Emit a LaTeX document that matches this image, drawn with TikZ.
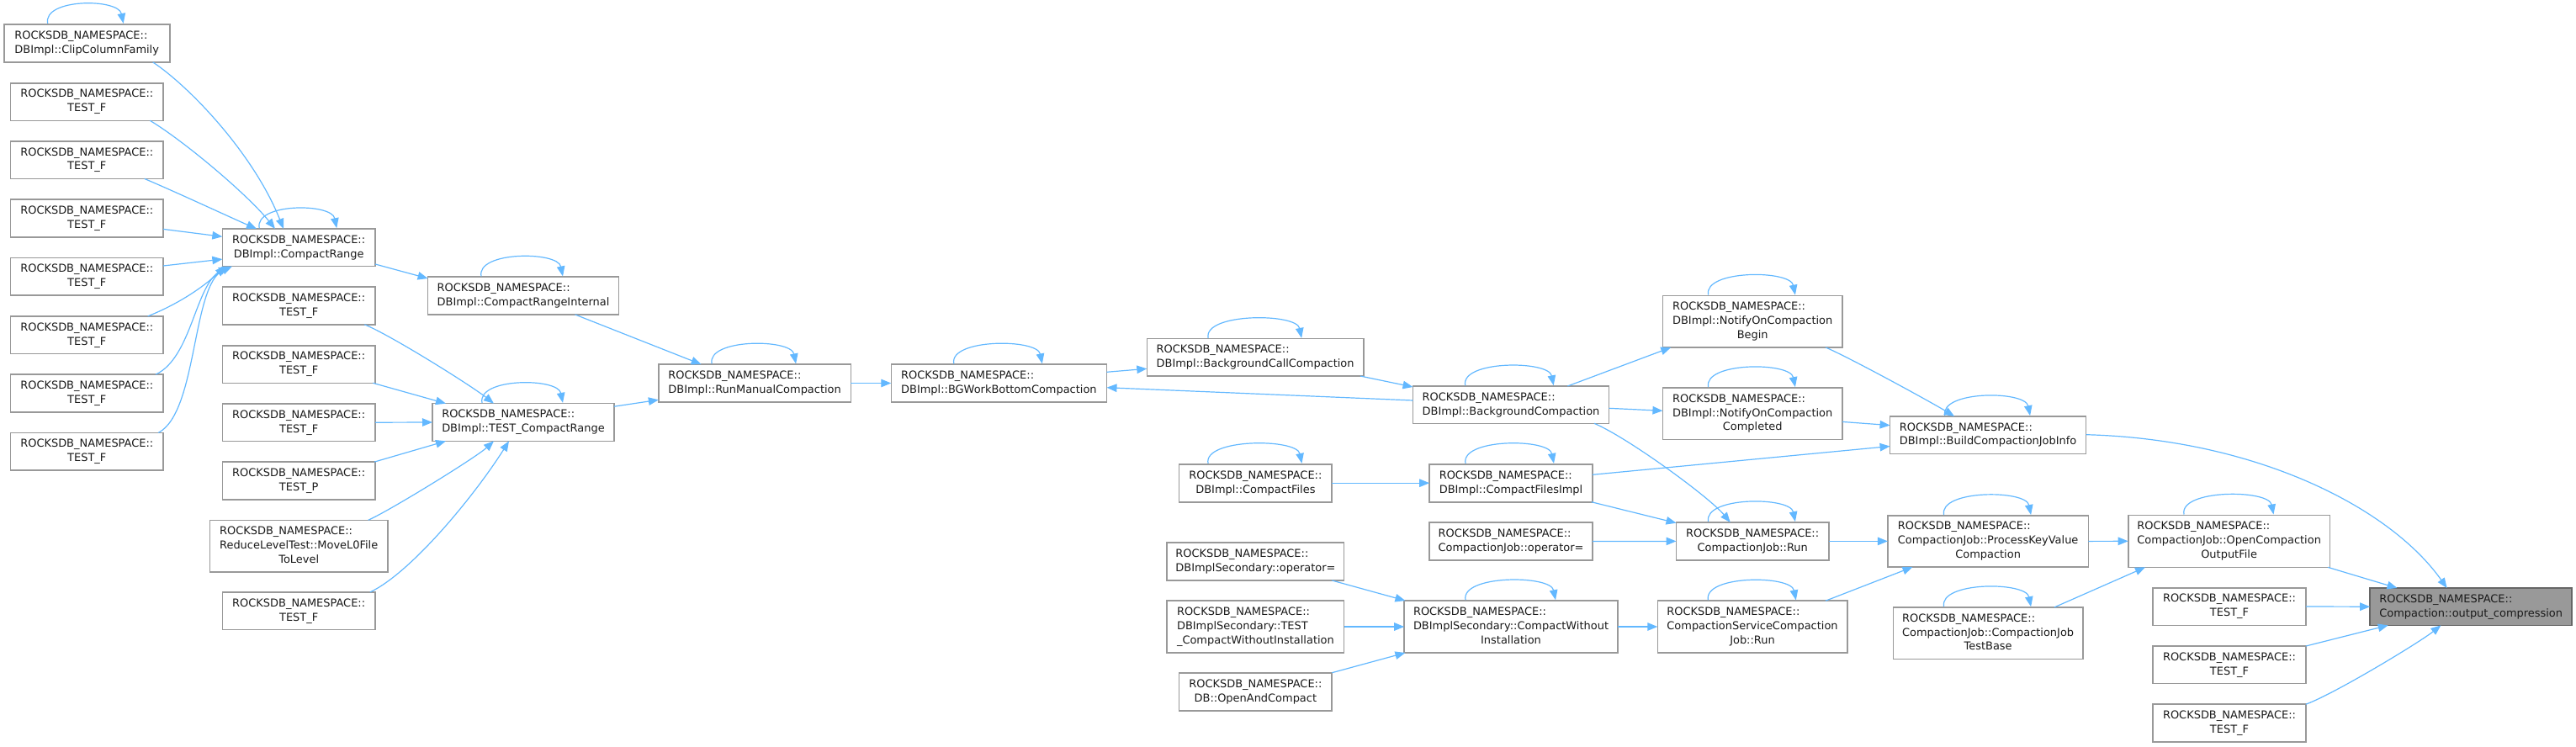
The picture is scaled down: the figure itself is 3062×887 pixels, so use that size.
\documentclass[tikz,border=0pt]{standalone}
\usepackage{fontspec}
\setmainfont{DejaVu Sans}
\usetikzlibrary{arrows.meta,calc}
\definecolor{edgeblue}{HTML}{63B8FF}
\definecolor{nodeborder}{HTML}{999999}
\definecolor{mainfill}{HTML}{999999}
\definecolor{mainborder}{HTML}{666666}
\definecolor{txt}{HTML}{1A1A1A}
\tikzset{
 gnode/.style={draw=nodeborder, fill=white, line width=1.6pt, inner sep=0pt, text=txt, font=\fontsize{12.95}{16.9}\selectfont},
 mainnode/.style={gnode, fill=mainfill, draw=mainborder},
 edge/.style={draw=edgeblue, line width=1.2pt, -{Triangle[length=12pt,width=9.5pt]}},
}
\newcommand{\nsA}[1]{\begin{tabular}{@{}l@{}}ROCKSDB\_NAMESPACE::\\\multicolumn{1}{@{}c@{}}{#1}\end{tabular}}
\newcommand{\nsB}[2]{\begin{tabular}{@{}l@{}}ROCKSDB\_NAMESPACE::\\#1\\\multicolumn{1}{@{}c@{}}{#2}\end{tabular}}
\newcommand{\gn}[6]{\node[gnode, minimum width=#4pt, minimum height=#5pt] (#1) at (#2,#3) {#6};}
\newcommand{\sloop}[3]{\draw[edge] ([xshift=#2pt]#1.north) .. controls +(-6,-30) and +(-6,-30) .. ([xshift=#3pt]#1.north);}
\begin{document}
\begin{tikzpicture}[x=1pt,y=-1pt]
\useasboundingbox (0,0) rectangle (3062,887);
% column 0
\gn{clip}{103.2}{51.3}{197}{45.2}{\nsA{DBImpl::ClipColumnFamily}}
\gn{a1}{103.3}{121}{181.5}{44.6}{\nsA{TEST\_F}}
\gn{a2}{103.3}{190.1}{181.5}{44.6}{\nsA{TEST\_F}}
\gn{a3}{103.3}{259.4}{181.5}{44.6}{\nsA{TEST\_F}}
\gn{a4}{103.3}{328.8}{181.5}{44.6}{\nsA{TEST\_F}}
\gn{a5}{103.3}{398.2}{181.5}{44.6}{\nsA{TEST\_F}}
\gn{a6}{103.3}{467.5}{181.5}{44.6}{\nsA{TEST\_F}}
\gn{a7}{103.3}{536.7}{181.5}{44.6}{\nsA{TEST\_F}}
% column 1
\gn{crange}{355.2}{294.3}{181.7}{44.7}{\nsA{DBImpl::CompactRange}}
\gn{b1}{355.2}{363.5}{181.7}{44.6}{\nsA{TEST\_F}}
\gn{b2}{355.2}{433}{181.7}{44.6}{\nsA{TEST\_F}}
\gn{b3}{355.2}{502.2}{181.7}{44.6}{\nsA{TEST\_F}}
\gn{testp}{355.2}{571.4}{181.7}{44.6}{\nsA{TEST\_P}}
\gn{reduce}{355.2}{649}{211.7}{61.4}{\nsB{ReduceLevelTest::MoveL0File}{ToLevel}}
\gn{b4}{355.2}{726.2}{181.7}{44.6}{\nsA{TEST\_F}}
% column 2
\gn{cri}{622}{351.6}{226.8}{44.7}{\nsA{DBImpl::CompactRangeInternal}}
\gn{tcr}{622}{502}{216}{44.7}{\nsA{DBImpl::TEST\_CompactRange}}
% column 3,4
\gn{rmc}{897.1}{455.5}{228.5}{44.7}{\nsA{DBImpl::RunManualCompaction}}
\gn{bgw}{1187.4}{455.5}{256.2}{44.7}{\nsA{DBImpl::BGWorkBottomCompaction}}
% column 5
\gn{bcc}{1492.1}{424.9}{257.6}{44.5}{\nsA{DBImpl::BackgroundCallCompaction}}
\gn{cfiles}{1492.4}{574.2}{181.7}{45}{\nsA{DBImpl::CompactFiles}}
\gn{dso}{1492.4}{667.5}{210.3}{45}{\nsA{DBImplSecondary::operator=}}
\gn{dstc}{1492.4}{745}{210.3}{62}{\nsB{DBImplSecondary::TEST}{\_CompactWithoutInstallation}}
\gn{oac}{1492.4}{822.2}{181.7}{45}{\nsA{DB::OpenAndCompact}}
% column 6
\gn{bc}{1796}{481.2}{233}{44.4}{\nsA{DBImpl::BackgroundCompaction}}
\gn{cfi}{1796}{574.2}{193.7}{45}{\nsA{DBImpl::CompactFilesImpl}}
\gn{cjo}{1796}{643.5}{193.7}{45}{\nsA{CompactionJob::operator=}}
\gn{cwi}{1796}{745}{253.6}{62}{\nsB{DBImplSecondary::CompactWithout}{Installation}}
% column 7
\gn{nob}{2083.2}{382.2}{213.6}{61.6}{\nsB{DBImpl::NotifyOnCompaction}{Begin}}
\gn{noc}{2083.2}{491.7}{213.6}{61.6}{\nsB{DBImpl::NotifyOnCompaction}{Completed}}
\gn{cjr}{2083.2}{643.4}{181.4}{45}{\nsA{CompactionJob::Run}}
\gn{cscj}{2083}{745}{225.4}{61.6}{\nsB{CompactionServiceCompaction}{Job::Run}}
% column 8
\gn{bcji}{2363.1}{517.1}{233.1}{44.4}{\nsA{DBImpl::BuildCompactionJobInfo}}
\gn{pkvc}{2363.1}{643.4}{238.4}{61.2}{\nsB{CompactionJob::ProcessKeyValue}{Compaction}}
\gn{cjtb}{2363.1}{752.7}{225.4}{61.6}{\nsB{CompactionJob::CompactionJob}{TestBase}}
% column 9
\gn{ocof}{2649.6}{643.3}{239.8}{62}{\nsB{CompactionJob::OpenCompaction}{OutputFile}}
\gn{c1}{2650}{721}{181.9}{44.6}{\nsA{TEST\_F}}
\gn{c2}{2650}{790.3}{181.9}{44.6}{\nsA{TEST\_F}}
\gn{c3}{2650}{859.5}{181.9}{44.6}{\nsA{TEST\_F}}
% main node
\node[mainnode, minimum width=240.1pt, minimum height=44.3pt] (oc) at (2937.2,721.2) {\nsA{Compaction::output\_compression}};
% edges
\draw[edge] ($(clip)+(78.5,22.6)$) .. controls +(45,30) and +(-35,-88) .. ($(crange)+(-18.2,-22.35)$);
\draw[edge] ($(a1)+(75,22.3)$) .. controls +(40,24) and +(-33,-41) .. ($(crange)+(-28.2,-22.35)$);
\draw[edge] ($(a2)+(68.4,22.3)$) .. controls +(40,17) and +(-30,-13) .. ($(crange)+(-50.2,-22.35)$);
\draw[edge] ($(a3)+(90.75,13)$) -- ($(crange)+(-90.85,-13)$);
\draw[edge] ($(a4)+(90.75,-12.8)$) -- ($(crange)+(-90.85,13.8)$);
\draw[edge] ($(a5)+(72.4,-22.3)$) .. controls +(35,-14) and +(-28,26) .. ($(crange)+(-87.2,22.35)$);
\draw[edge] ($(a6)+(81.7,-22.3)$) .. controls +(43,-20) and +(-40,22) .. ($(crange)+(-83.2,22.35)$);
\draw[edge] ($(a7)+(85,-22.3)$) .. controls +(46.7,-24.4) and +(-48,21.3) .. ($(crange)+(-79.2,22.35)$);
\draw[edge] ($(crange)+(90.85,19.7)$) -- ($(cri)+(-113.4,-20.6)$);
\draw[edge] ($(b1)+(78.1,22.3)$) .. controls +(30,12) and +(-28,-22) .. ($(tcr)+(-35,-22.35)$);
\draw[edge] ($(b2)+(88.1,22.3)$) -- ($(tcr)+(-92,-22.35)$);
\draw[edge] ($(b3)+(90.85,0)$) -- ($(tcr)+(-108,0)$);
\draw[edge] ($(testp)+(89.8,-22.3)$) -- ($(tcr)+(-92,22.35)$);
\draw[edge] ($(reduce)+(82.5,-30.7)$) .. controls +(25,-11) and +(-22,20) .. ($(tcr)+(-35,22.35)$);
\draw[edge] ($(b4)+(84.8,-22.3)$) .. controls +(50,-24) and +(-40,63.3) .. ($(tcr)+(-17,22.35)$);
\draw[edge] ($(cri)+(61.6,22.35)$) -- ($(rmc)+(-63.5,-22.35)$);
\draw[edge] ($(tcr)+(108,-18.8)$) -- ($(rmc)+(-114.25,19.8)$);
\draw[edge] ($(rmc)+(114.25,0)$) -- ($(bgw)+(-128.1,0)$);
\draw[edge] ($(bgw)+(128.1,-13.2)$) -- ($(bcc)+(-128.8,13.4)$);
\draw[edge] ($(bcc)+(124.8,22.1)$) -- ($(bc)+(-116.5,-21.2)$);
\draw[edge] ($(bc)+(-116.5,-5.2)$) -- ($(bgw)+(128.1,5.2)$);
\draw[edge] ($(bc)+(67.3,-22.2)$) -- ($(nob)+(-97,30.8)$);
\draw[edge] ($(bc)+(116.5,4.1)$) -- ($(noc)+(-106.8,-3.4)$);
\draw[edge] ($(bc)+(99,22.1)$) .. controls +(40,17) and +(-25,-30) .. ($(cjr)+(-26.5,-22.5)$);
\draw[edge] ($(cfiles)+(90.85,0)$) -- ($(cfi)+(-96.85,0)$);
\draw[edge] ($(cfi)+(96.85,-9.9)$) -- ($(bcji)+(-116.55,13.4)$);
\draw[edge] ($(cfi)+(95.7,22.5)$) -- ($(cjr)+(-90.7,-21.7)$);
\draw[edge] ($(cjo)+(96.85,0)$) -- ($(cjr)+(-90.7,0)$);
\draw[edge] ($(nob)+(87,30.8)$) .. controls +(30,13) and +(-28,-17) .. ($(bcji)+(-40,-22.2)$);
\draw[edge] ($(noc)+(106.8,9.7)$) -- ($(bcji)+(-116.55,-11.5)$);
\draw[edge] ($(bcji)+(116.55,-0.4)$) .. controls +(200,5.3) and +(-68.6,-97) .. ($(oc)+(-28.6,-22.15)$);
\draw[edge] ($(cjr)+(90.7,0)$) -- ($(pkvc)+(-119.2,0)$);
\draw[edge] ($(cscj)+(87,-30.8)$) -- ($(pkvc)+(-89.6,30.6)$);
\draw[edge] ($(cwi)+(126.8,0)$) -- ($(cscj)+(-112.7,0)$);
\draw[edge] ($(dso)+(90.9,22.5)$) -- ($(cwi)+(-125.6,-31)$);
\draw[edge] ($(dstc)+(105.15,0)$) -- ($(cwi)+(-126.8,0)$);
\draw[edge] ($(oac)+(90.9,-22.5)$) -- ($(cwi)+(-125.6,31)$);
\draw[edge] ($(pkvc)+(119.2,0)$) -- ($(ocof)+(-119.9,0)$);
\draw[edge] ($(cjtb)+(78.8,-30.8)$) -- ($(ocof)+(-99.6,31)$);
\draw[edge] ($(ocof)+(117.4,31)$) -- ($(oc)+(-87.7,-22.15)$);
\draw[edge] ($(c1)+(90.95,0)$) -- ($(oc)+(-120.05,0)$);
\draw[edge] ($(c2)+(90.95,-22.3)$) -- ($(oc)+(-98.5,22.15)$);
\draw[edge] ($(c3)+(90.95,-22.3)$) .. controls +(35,-13) and +(-25,20) .. ($(oc)+(-35.8,22.15)$);
% self loops
\sloop{clip}{-46.5}{43.5}
\sloop{crange}{-47}{45}
\sloop{cri}{-50}{47}
\sloop{tcr}{-49}{47}
\sloop{rmc}{-51}{49}
\sloop{bgw}{-53.6}{51.4}
\sloop{bcc}{-56}{55}
\sloop{bc}{-54.3}{50.7}
\sloop{cfiles}{-56.4}{55}
\sloop{cfi}{-54}{51}
\sloop{cwi}{-54}{53}
\sloop{nob}{-52.6}{50.7}
\sloop{noc}{-52.6}{50.7}
\sloop{cjr}{-52.6}{50.7}
\sloop{cscj}{-52.6}{51.8}
\sloop{bcji}{-51.4}{50}
\sloop{pkvc}{-52.5}{51}
\sloop{cjtb}{-52.5}{51}
\sloop{ocof}{-53.6}{52.9}
\end{tikzpicture}
\end{document}
